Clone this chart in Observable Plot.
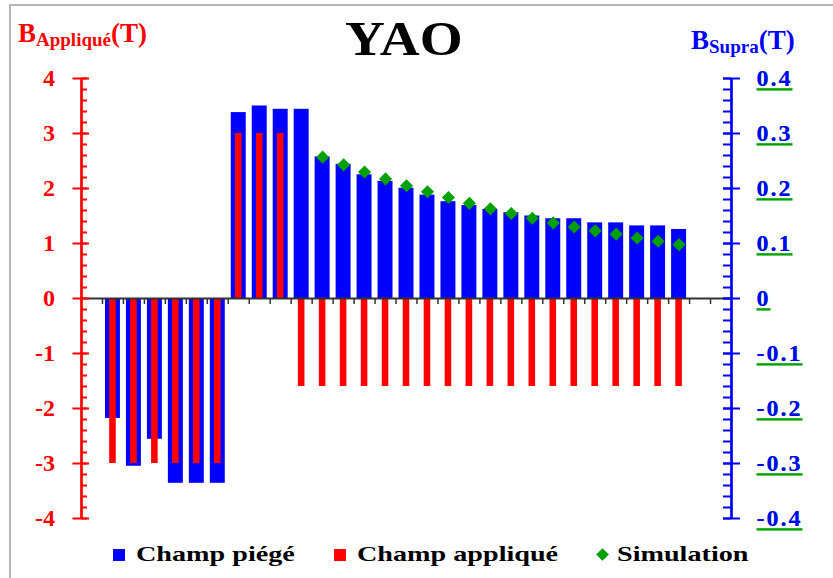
<!DOCTYPE html>
<html>
<head>
<meta charset="utf-8">
<script src="https://cdn.jsdelivr.net/npm/d3@7"></script>
<script src="https://cdn.jsdelivr.net/npm/@observablehq/plot@0.6"></script>
<style>
  html, body { margin: 0; padding: 0; background: #fff; overflow: hidden; }
  #wrap { position: relative; width: 833px; height: 578px; overflow: hidden; font-family: "Liberation Serif", "Times New Roman", serif; font-weight: bold; }
  .abs { position: absolute; white-space: nowrap; }
  #frame { position: absolute; left: 9px; top: 4px; width: 2000px; height: 2000px; border-top: 2px solid #b4b4b4; border-left: 2px solid #b4b4b4; pointer-events: none; }
  svg g[fill="#00a000"] text { text-decoration: underline; text-decoration-thickness: 3px; text-underline-offset: 2px; letter-spacing: 2px; }
  svg g[fill="#0000ff"] text { letter-spacing: 2px; }
  .lg { position: absolute; top: 543px; font-size: 22px; line-height: 22px; color: #000; display: inline-block; transform: scaleX(1.28); transform-origin: left center; }
  .sw { position: absolute; width: 12px; height: 12px; }
</style>
</head>
<body>
<div id="wrap"></div>
<script>
// ---- data ----
const barIndex = d3.range(1, 29); // 28 measurement steps
// Champ piégé (B_Supra, T, right axis)
const champPiege = [-0.218, -0.305, -0.256, -0.336, -0.336, -0.336,
  0.338, 0.350, 0.344, 0.344,
  0.2575, 0.244, 0.225, 0.213, 0.2005, 0.188, 0.176, 0.169, 0.162, 0.156,
  0.150, 0.145, 0.145, 0.1375, 0.1375, 0.132, 0.132, 0.1255];
// Champ appliqué (B_Appliqué, T, left axis)
const champApplique = [-3, -3, -3, -3, -3, -3, 3, 3, 3,
  -1.6, -1.6, -1.6, -1.6, -1.6, -1.6, -1.6, -1.6, -1.6, -1.6,
  -1.6, -1.6, -1.6, -1.6, -1.6, -1.6, -1.6, -1.6, -1.6];
// Simulation (B_Supra, T) for steps 11..28
const simIndex = d3.range(11, 29);
const simulation = [0.257, 0.243, 0.230, 0.2175, 0.205, 0.194, 0.1835, 0.173, 0.163,
  0.1545, 0.146, 0.1375, 0.130, 0.123, 0.117, 0.110, 0.104, 0.098];
// axes
const leftTicks = [4, 3, 2, 1, 0, -1, -2, -3, -4];
const leftLabels = ["4", "3", "2", "1", "0", "-1", "-2", "-3", "-4"];
const rightTicks = [0.4, 0.3, 0.2, 0.1, 0, -0.1, -0.2, -0.3, -0.4];
const rightLabels = ["0.4", "0.3", "0.2", "0.1", "0", "-0.1", "-0.2", "-0.3", "-0.4"];
const minorTicks = d3.range(-20, 21).map(k => k / 5); // every 0.2 on left axis
const xTicks = d3.range(1, 31);
const xMax = 31;

const ratio = leftTicks[0] / rightTicks[0]; // 4 T left <-> 0.4 T right

const bars = barIndex.map((i, k) => ({i, piege: champPiege[k], appl: champApplique[k]}));
const sims = simIndex.map((i, k) => ({i, v: simulation[k]}));
const lt = leftTicks.map((v, k) => ({v, t: leftLabels[k]}));
const rt = rightTicks.map((v, k) => ({v: v * ratio, t: rightLabels[k]}));

const RED = "#ff0000", BLUE = "#0000ff", GREEN = "#00a000", AX = "#333333";
const font = {fontFamily: "Liberation Serif", fontWeight: "bold", fontSize: 24};

const chart = Plot.plot({
  width: 833,
  height: 530,
  marginLeft: 81,
  marginRight: 102,
  marginTop: 78,
  marginBottom: 12,
  style: {background: "white", overflow: "visible"},
  x: {type: "linear", domain: [0, xMax], axis: null},
  y: {domain: [-4, 4], axis: null},
  marks: [
    Plot.rectY(bars, {x1: d => d.i, x2: d => d.i + 1, y: d => d.piege * ratio, fill: BLUE, insetLeft: 3, insetRight: 3}),
    Plot.rectY(bars, {x1: d => d.i, x2: d => d.i + 1, y: d => d.appl, fill: RED, insetLeft: 7.2, insetRight: 7.2}),
    Plot.ruleY([0], {stroke: AX, strokeWidth: 2}),
    Plot.ruleX(xTicks, {x: d => d, y1: 0, y2: 0, insetBottom: -6, stroke: AX, strokeWidth: 1.5}),
    Plot.dot(sims, {x: d => d.i + 0.5, y: d => d.v * ratio, symbol: "diamond2", r: 5.9, fill: GREEN, stroke: "none"}),
    // left axis
    Plot.ruleX([0], {y1: -4, y2: 4, stroke: RED, strokeWidth: 2.7}),
    Plot.ruleY(minorTicks, {y: d => d, x1: 0, x2: 0, insetRight: -6, stroke: RED, strokeWidth: 2}),
    Plot.ruleY(leftTicks, {y: d => d, x1: 0, x2: 0, insetLeft: -8.5, insetRight: -8, stroke: RED, strokeWidth: 2}),
    Plot.text(lt, {y: "v", text: "t", frameAnchor: "left", textAnchor: "end", dx: -26.5, fill: RED, ...font}),
    // right axis
    Plot.ruleX([xMax], {y1: -4, y2: 4, stroke: BLUE, strokeWidth: 2.7}),
    Plot.ruleY(minorTicks, {y: d => d, x1: xMax, x2: xMax, insetLeft: -8, stroke: BLUE, strokeWidth: 2}),
    Plot.ruleY(leftTicks, {y: d => d, x1: xMax, x2: xMax, insetLeft: -8, insetRight: -9, stroke: BLUE, strokeWidth: 2}),
    Plot.text(rt, {y: "v", text: "t", frameAnchor: "right", textAnchor: "start", dx: 25, fill: GREEN, ...font}),
    Plot.text(rt, {y: "v", text: "t", frameAnchor: "right", textAnchor: "start", dx: 25, fill: BLUE, ...font})
  ]
});

const wrap = document.getElementById("wrap");
chart.style.position = "absolute";
chart.style.left = "0px";
chart.style.top = "0px";
wrap.appendChild(chart);

function add(html) { wrap.insertAdjacentHTML("beforeend", html); }
// titles
add(`<div class="abs" style="left:345px; top:15px; font-size:48px; line-height:48px; color:#000; transform:scaleX(1.15); transform-origin:left center;">YAO</div>`);
add(`<div class="abs" style="left:18px; top:20px; font-size:27px; line-height:27px; color:${RED};">B<span style="font-size:19px; position:relative; top:4px;">Appliqué</span>(T)</div>`);
add(`<div class="abs" style="left:691px; top:27px; font-size:27px; line-height:27px; color:${BLUE};">B<span style="font-size:19px; position:relative; top:4px;">Supra</span>(T)</div>`);
// legend
add(`<div class="sw" style="left:113px; top:549px; background:${BLUE};"></div>`);
add(`<div class="lg" style="left:136px;">Champ piégé</div>`);
add(`<div class="sw" style="left:334px; top:549px; background:${RED};"></div>`);
add(`<div class="lg" style="left:357px;">Champ appliqué</div>`);
add(`<div class="sw" style="left:598px; top:550px; width:9px; height:9px; transform:rotate(45deg); background:${GREEN};"></div>`);
add(`<div class="lg" style="left:617px;">Simulation</div>`);
add(`<div id="frame"></div>`);
</script>
</body>
</html>
